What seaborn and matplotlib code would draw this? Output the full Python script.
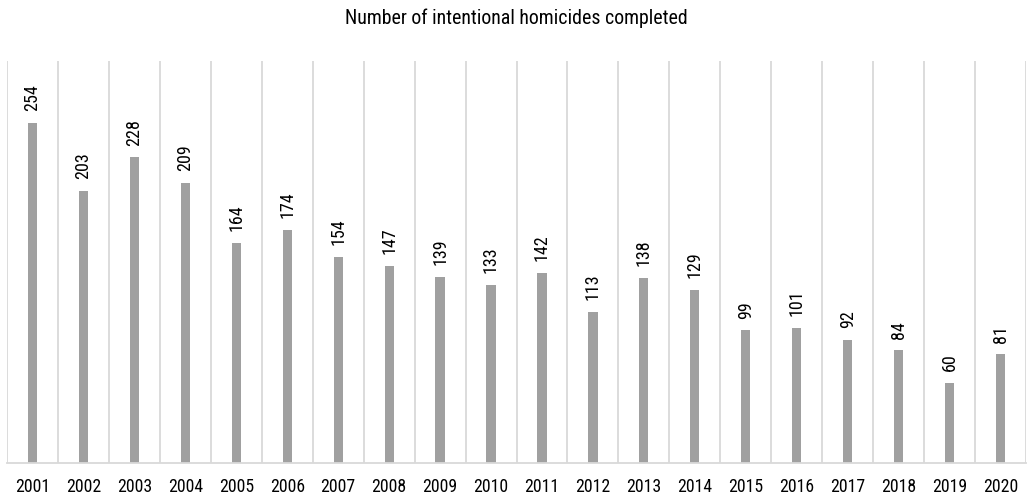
import matplotlib
matplotlib.use("Agg")
import matplotlib.pyplot as plt
import seaborn as sns
import pandas as pd
import numpy as np
from matplotlib.ticker import FixedLocator

years = [str(y) for y in range(2001, 2021)]
values = [254, 203, 228, 209, 164, 174, 154, 147, 139, 133, 142, 113, 138, 129, 99, 101, 92, 84, 60, 81]
title = "Number of intentional homicides completed"

sns.set_theme(style="white")
plt.rcParams['font.family'] = ['Roboto Condensed', 'DejaVu Sans']

df = pd.DataFrame({"year": years, "value": values})

fig = plt.figure(figsize=(10.32, 4.95), dpi=100)
ax = fig.add_axes([7/1032, 1 - 463/495, (1026 - 7)/1032, (463 - 61)/495])

sns.barplot(data=df, x="year", y="value", color="#a0a0a0", width=0.18, ax=ax,
            saturation=1, edgecolor="none")

ax.set_ylim(0, 300)
ax.set_xlim(-0.5, len(years) - 0.5)
ax.xaxis.set_minor_locator(FixedLocator(np.arange(-0.5, len(years), 1.0)))
ax.grid(False)
ax.grid(True, which="minor", axis="x", color="#d9d9d9", linewidth=1.3)
ax.set_axisbelow(True)
ax.tick_params(axis="x", which="both", length=0, labelsize=12.8, colors="#000000", pad=11)
ax.set_yticks([])
ax.set_xlabel("")
ax.set_ylabel("")
for s in ["top", "left", "right"]:
    ax.spines[s].set_visible(False)
ax.spines["bottom"].set_color("#d9d9d9")
ax.spines["bottom"].set_linewidth(1.3)

for c in ax.containers:
    ax.bar_label(c, labels=[str(v) for v in values], rotation=90, padding=8.5,
                 fontsize=13, color="#000000")

fig.text(516/1032, 1 - 18/495, title, ha="center", va="center", fontsize=14.3, color="#000000")

fig.savefig("out.png", dpi=100)
